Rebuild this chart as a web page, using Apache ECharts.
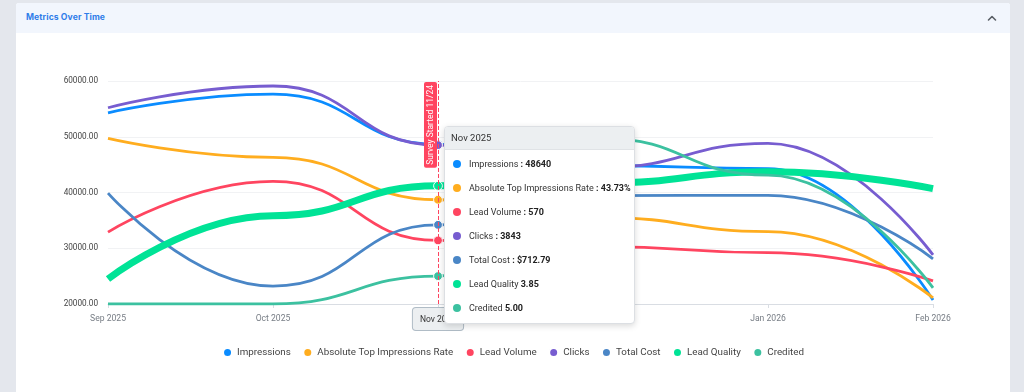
<!DOCTYPE html>
<html>
<head>
<meta charset="utf-8">
<script src="https://cdn.jsdelivr.net/npm/echarts@6/dist/echarts.min.js"></script>
<style>
  html,body{margin:0;padding:0;width:1024px;height:392px;overflow:hidden;background:#e4e7ed;font-family:Roboto,"Noto Sans",sans-serif;}
  #card{position:absolute;left:16px;top:3px;width:994px;height:389px;background:#fff;border-radius:3px 3px 0 0;}
  #head{position:absolute;left:0;top:0;width:994px;height:30px;background:#f2f6fd;border-radius:3px 3px 0 0;}
  #title{position:absolute;left:10px;top:9px;font-size:8.6px;font-weight:700;color:#2f7de9;font-family:Inter,"Noto Sans",sans-serif;letter-spacing:0.1px;}
  #chev{position:absolute;left:971px;top:11px;width:10px;height:8px;}
  #chart{position:absolute;left:0;top:30px;width:994px;height:359px;}
</style>
</head>
<body>
<div id="card">
  <div id="head"><div id="title">Metrics Over Time</div>
    <svg id="chev" viewBox="0 0 10 8"><polyline points="1.5,6 5,2.5 8.5,6" fill="none" stroke="#5a5f66" stroke-width="1.6" stroke-linecap="round" stroke-linejoin="round"/></svg>
  </div>
  <div id="chart"></div>
</div>
<script>
var months = ['Sep 2025','Oct 2025','Nov 2025','Dec 2025','Jan 2026','Feb 2026'];
var seriesNames = ['Impressions','Absolute Top Impressions Rate','Lead Volume','Clicks','Total Cost','Lead Quality','Credited'];
var impressions = [54300, 57650, 48640, 44800, 44300, 20700];
var absTopRate  = [49700, 46300, 38700, 35500, 33000, 21100];
var leadVolume  = [32900, 42000, 31400, 30300, 29200, 24150];
var clicks      = [55200, 59100, 48500, 44500, 48800, 28800];
var totalCost   = [39900, 23200, 34200, 39450, 39500, 28100];
var leadQuality = [24500, 35850, 41200, 41700, 43700, 40700];
var credited    = [20000, 20000, 25000, 49700, 43100, 22900];
var colors = ['#0a8cff','#ffad1f','#ff4560','#775dd0','#4a86c6','#00e396','#3cc1a0'];
var yTicks = [20000, 30000, 40000, 50000, 60000];
var novTipValues = ['48640','43.73%','570','3843','$712.79','3.85','5.00'];
var novTipColon = [true,true,true,true,true,false,false];
var markLabel = 'Survey Started 11/24';

var FONT = 'Roboto, "Noto Sans", sans-serif';
var allData = [impressions, absTopRate, leadVolume, clicks, totalCost, leadQuality, credited];
var chart = echarts.init(document.getElementById('chart'));
var series = allData.map(function(d,i){
  var s = {
    name: seriesNames[i], type:'line', data:d, smooth:0.5, smoothMonotone:'x',
    showSymbol:false, symbol:'circle', symbolSize:8,
    lineStyle:{width: i===5 ? 7 : 2.8, color: colors[i]},
    itemStyle:{color: colors[i], borderColor:'#fff', borderWidth:1},
    emphasis:{disabled:true}
  };
  if(i===0){
    s.markLine = {
      silent:true, symbol:['none','none'],
      lineStyle:{color:'#ff4560', type:'dashed', width:1},
      label:{show:true, formatter:markLabel, position:'insideEndTop', distance:1,
        color:'#fff', backgroundColor:'#ff4560', fontSize:8.5, padding:[2,3,2,3], borderRadius:2,
        fontFamily:FONT},
      data:[{xAxis: months[2]}]
    };
  }
  return s;
});

chart.setOption({
  animation:false,
  color: colors,
  textStyle:{fontFamily:FONT},
  grid:{left:92, right:77, top:48, bottom:88},
  legend:{
    top:309, left:'center', icon:'circle', itemWidth:9, itemHeight:9, itemGap:11.5,
    textStyle:{fontSize:9.8, color:'#444', fontFamily:FONT}, data: seriesNames
  },
  tooltip:{
    trigger:'axis', alwaysShowContent:true, confine:false,
    backgroundColor:'#fff', borderColor:'#dcdfe3', borderWidth:1, padding:0,
    extraCssText:'border-radius:4px;box-shadow:0 2px 6px rgba(0,0,0,0.15);width:189px;overflow:hidden;',
    position:function(){ return [428, 93]; },
    axisPointer:{type:'line', lineStyle:{color:'#ff4560', type:'dashed', width:1, opacity:0},
      label:{show:true, backgroundColor:'#eceff1', color:'#333', borderColor:'#b0bcc6', borderWidth:1,
        padding:[7,7,6,7], fontSize:8.5, margin:4, fontFamily:FONT}},
    formatter:function(params){
      var idx = params[0].dataIndex;
      var h = '<div style="font-family:Roboto,sans-serif;background:#eceff1;border-bottom:1px solid #e0e3e6;padding:0 6px;height:22px;line-height:22px;font-size:9.5px;color:#333;">'+params[0].axisValue+'</div><div style="padding:2px 0 3px 0;font-family:Roboto,sans-serif;">';
      params.forEach(function(p){
        var si = p.seriesIndex;
        var v = idx===2 ? novTipValues[si] : p.value;
        var colon = idx===2 ? novTipColon[si] : true;
        h += '<div style="height:24px;line-height:24px;font-size:9px;color:#333;white-space:nowrap;">'+
          '<span style="display:inline-block;width:8px;height:8px;border-radius:50%;background:'+p.color+';margin:0 8px 0 8px;vertical-align:-1px;"></span>'+
          p.seriesName+' <b style="color:#222;">'+(colon?': ':'')+v+'</b></div>';
      });
      return h + '</div>';
    }
  },
  xAxis:{
    type:'category', data:months, boundaryGap:false,
    axisLine:{lineStyle:{color:'#d9dde3'}},
    axisTick:{show:true, lineStyle:{color:'#d9dde3'}, length:4},
    axisLabel:{color:'#777d85', fontSize:8.6, margin:10},
    splitLine:{show:false}
  },
  yAxis:{
    type:'value', min:yTicks[0], max:yTicks[yTicks.length-1], interval:10000,
    axisLine:{show:false}, axisTick:{show:false},
    axisLabel:{color:'#444', fontSize:8.2, margin:10, formatter:function(v){return v.toFixed(2);}},
    splitLine:{lineStyle:{color:'#f1f2f4'}}
  },
  series: series
});
chart.dispatchAction({type:'showTip', seriesIndex:0, dataIndex:2});
</script>
</body>
</html>
